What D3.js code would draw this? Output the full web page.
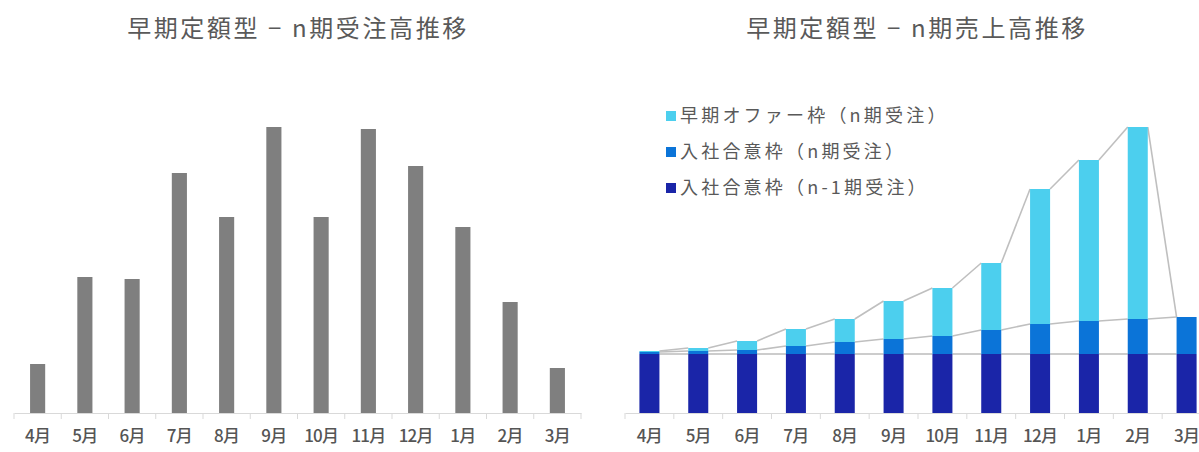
<!DOCTYPE html>
<html>
<head>
<meta charset="utf-8">
<script src="https://cdn.jsdelivr.net/npm/d3@7"></script>
<style>
  body { margin: 0; background: #fff; }
  text { font-family: "Noto Sans CJK JP", "Noto Sans", sans-serif; }
</style>
</head>
<body>
<div class="canvas"></div>
<script>
// data
const months = ['4月', '5月', '6月', '7月', '8月', '9月', '10月', '11月', '12月', '1月', '2月', '3月'];
const orders = [49, 136, 134, 240, 196, 286, 196, 284, 247, 186, 111, 45];
const prevHire = [59, 59, 59, 59, 59, 59, 59, 59, 59, 59, 59, 59];
const curHire = [2, 3, 4, 8, 12, 15, 18, 24, 30, 33, 35, 37];
const earlyOffer = [1, 3, 9, 17, 23, 38, 48, 67, 135, 161, 192, 0];
const seriesNames = ['早期オファー枠（n期受注）', '入社合意枠（n期受注）', '入社合意枠（n-1期受注）'];
const seriesColors = ['#4ccfee', '#0b74d8', '#1a25a8'];
const titles = ['早期定額型 − n期受注高推移', '早期定額型 − n期売上高推移'];

const svg = d3.select('.canvas')
  .append('svg')
    .attr('width', 1199)
    .attr('height', 452);

const baseY = 413;
const y = d3.scaleLinear()
  .domain([0, 300])
  .range([baseY, 113]);

// draws the category axis with boundary ticks
function drawAxis(range) {
  const xa = d3.scaleBand().domain(months).range(range);
  const g = svg.append('g').attr('transform', `translate(0, ${baseY})`);
  g.call(d3.axisBottom(xa).tickSize(0).tickPadding(17));
  g.select('.domain').attr('stroke', '#d9d9d9').attr('stroke-width', 1.2);
  g.selectAll('text')
    .attr('fill', '#555')
    .attr('font-size', 17)
    .attr('font-weight', 500)
    .attr('letter-spacing', -0.8);
  const edges = months.map(m => xa(m)).concat([range[1]]);
  g.selectAll('.edge')
    .data(edges)
    .enter()
    .append('line')
      .attr('x1', d => d).attr('x2', d => d)
      .attr('y1', 0).attr('y2', 6)
      .attr('stroke', '#d9d9d9');
}

// left chart
const x1 = d3.scaleBand()
  .domain(months)
  .range([14, 581])
  .paddingInner(0.68)
  .paddingOuter(0.34);

svg.append('g').selectAll('rect')
  .data(orders)
  .enter()
  .append('rect')
    .attr('x', (d, i) => x1(months[i]))
    .attr('y', d => y(d))
    .attr('width', x1.bandwidth())
    .attr('height', d => baseY - y(d))
    .attr('fill', '#7f7f7f');

drawAxis([14, 581]);

// right chart (stacked)
const x2 = d3.scaleBand()
  .domain(months)
  .range([625, 1211])
  .paddingInner(0.59)
  .paddingOuter(0.295);

const table = months.map((m, i) => ({
  month: m, prev: prevHire[i], cur: curHire[i], early: earlyOffer[i]
}));
const keys = ['prev', 'cur', 'early'];
const stacked = d3.stack().keys(keys)(table);
const colorOf = {prev: seriesColors[2], cur: seriesColors[1], early: seriesColors[0]};

// series lines linking the top of each layer between neighbouring bars
const lineGen = d3.line();
stacked.forEach(layer => {
  const pts = [];
  layer.forEach((d, i) => {
    if (i > 0) pts.push([x2(months[i]), y(d[1])]);
    if (i < layer.length - 1) pts.push([x2(months[i]) + x2.bandwidth(), y(d[1])]);
  });
  for (let k = 0; k < pts.length; k += 2) {
    svg.append('path')
      .attr('d', lineGen([pts[k], pts[k + 1]]))
      .attr('stroke', '#bfbfbf')
      .attr('stroke-width', 1.6)
      .attr('fill', 'none');
  }
});

svg.append('g').selectAll('g')
  .data(stacked)
  .enter()
  .append('g')
    .attr('fill', d => colorOf[d.key])
  .selectAll('rect')
  .data(d => d)
  .enter()
  .append('rect')
    .attr('x', d => x2(d.data.month))
    .attr('y', d => y(d[1]))
    .attr('width', x2.bandwidth())
    .attr('height', d => y(d[0]) - y(d[1]));

drawAxis([625, 1211]);

// legend
const legend = svg.append('g').attr('transform', 'translate(666, 116)');
seriesNames.forEach((name, i) => {
  const row = legend.append('g').attr('transform', `translate(0, ${i * 36})`);
  row.append('rect')
    .attr('x', 0).attr('y', -5)
    .attr('width', 10).attr('height', 10)
    .attr('fill', seriesColors[i]);
  row.append('text')
    .attr('x', 14).attr('y', 0)
    .attr('dy', '0.35em')
    .attr('font-size', 18)
    .attr('letter-spacing', 3.2)
    .attr('fill', '#595959')
    .text(name);
});

// titles
[298, 917].forEach((cx, i) => {
  svg.append('text')
    .attr('x', cx).attr('y', 37)
    .attr('text-anchor', 'middle')
    .attr('font-size', 24)
    .attr('letter-spacing', 2.6)
    .attr('fill', '#595959')
    .text(titles[i]);
});
</script>
</body>
</html>
